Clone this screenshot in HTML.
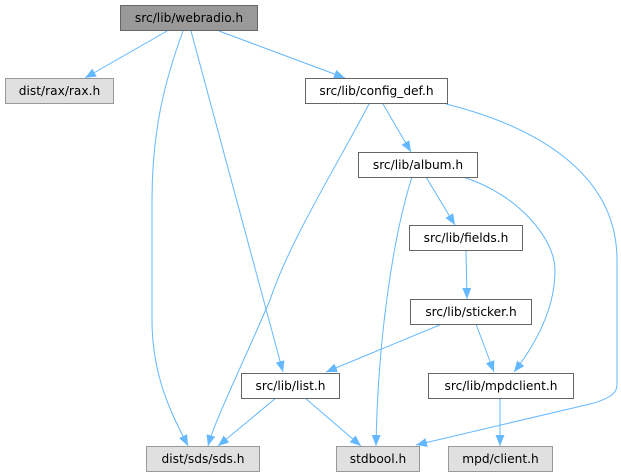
<!DOCTYPE html>
<html><head><style>
html,body{margin:0;padding:0;background:#fff;}
svg{display:block;}
text{font-family:"DejaVu Sans","Liberation Sans",sans-serif;font-size:12.2px;fill:#000;}
</style></head><body>
<svg width="621" height="476" viewBox="0 0 621 476" xmlns="http://www.w3.org/2000/svg">
<defs>
<marker id="a" markerWidth="11" markerHeight="9" refX="11" refY="4.5" orient="auto" markerUnits="userSpaceOnUse">
<path d="M0,0 L11,4.5 L0,9 Z" fill="#63b8ff"/>
</marker>
</defs>
<g fill="none" stroke="#63b8ff" stroke-width="1" marker-end="url(#a)">
<path d="M167,31 L85,78"/>
<path d="M219,31 L345,78"/>
<path d="M183,31 C165,80 152,130 152,200 L152,320 C152,380 175,420 188,446"/>
<path d="M191,31 L283,372"/>
<path d="M369,104 C340,160 290,240 270,300 C240,370 215,420 208,446"/>
<path d="M383,104 L411,152"/>
<path d="M446,104 C530,125 617,170 617,260 L617,385 C617,395 605,400 590,404 L416,445"/>
<path d="M412,177 C395,230 378,330 376,446"/>
<path d="M426,177 L455,225"/>
<path d="M463,177 C520,195 555,240 555,270 C555,310 535,345 514,372"/>
<path d="M466,251 L467,299"/>
<path d="M442,324 L326,372"/>
<path d="M476,324 L494,372"/>
<path d="M276,398 L218,446"/>
<path d="M305,398 L361,446"/>
<path d="M500,398 L500,446"/>
</g>
<g stroke="#666" stroke-width="1">
<rect x="120.5" y="5.5" width="137" height="25" fill="#999"/>
<rect x="5.5" y="78.5" width="108" height="25" fill="#e0e0e0" stroke="#999"/>
<rect x="305.5" y="78.5" width="142" height="25" fill="#fff"/>
<rect x="358.5" y="152.5" width="119" height="25" fill="#fff"/>
<rect x="409.5" y="225.5" width="113" height="25" fill="#fff"/>
<rect x="410.5" y="299.5" width="121" height="25" fill="#fff"/>
<rect x="241.5" y="373.5" width="98" height="25" fill="#fff"/>
<rect x="428.5" y="373.5" width="145" height="25" fill="#fff"/>
<rect x="146.5" y="446.5" width="113" height="25" fill="#e0e0e0" stroke="#999"/>
<rect x="336.5" y="446.5" width="83" height="25" fill="#e0e0e0" stroke="#999"/>
<rect x="448.5" y="446.5" width="104" height="25" fill="#e0e0e0" stroke="#999"/>
</g>
<g text-anchor="middle">
<text x="189" y="22">src/lib/webradio.h</text>
<text x="59.5" y="95">dist/rax/rax.h</text>
<text x="376.5" y="95">src/lib/config_def.h</text>
<text x="418" y="169">src/lib/album.h</text>
<text x="466" y="242">src/lib/fields.h</text>
<text x="471" y="316">src/lib/sticker.h</text>
<text x="290.5" y="390">src/lib/list.h</text>
<text x="501" y="390">src/lib/mpdclient.h</text>
<text x="203" y="463">dist/sds/sds.h</text>
<text x="378" y="463">stdbool.h</text>
<text x="500.5" y="463">mpd/client.h</text>
</g>
</svg>
</body></html>
